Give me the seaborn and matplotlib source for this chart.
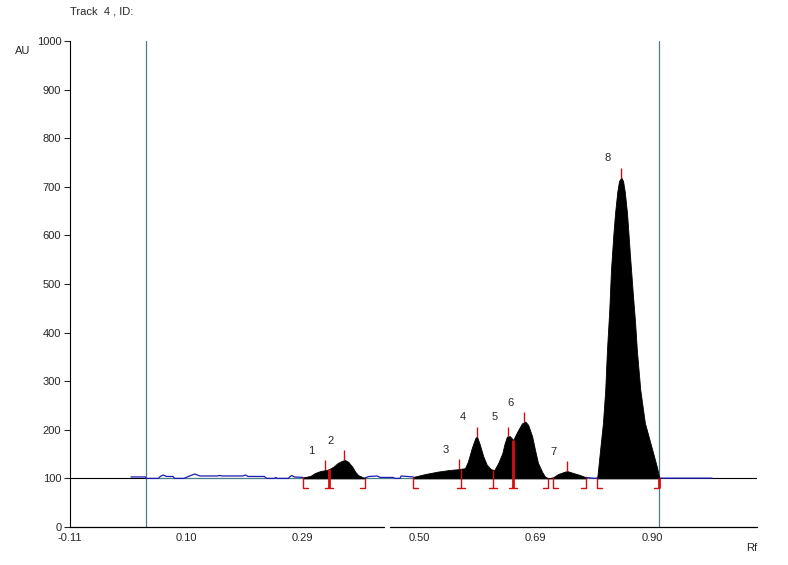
import numpy as np
import matplotlib
matplotlib.use("Agg")
import matplotlib.pyplot as plt
import seaborn as sns

# 扫描曲线（Rf, AU），按图上读数分段
rf_noise = [-0.004, 0.021, 0.023, 0.044, 0.047, 0.052, 0.058, 0.069, 0.072, 0.088, 0.100, 0.107,
            0.116, 0.146, 0.150, 0.155, 0.191, 0.195, 0.200, 0.228, 0.232, 0.246, 0.248, 0.250,
            0.270, 0.272, 0.276, 0.280, 0.295]
au_noise = [103, 103, 100, 100, 104, 107, 104, 104, 100, 100, 106, 109,
            105, 105, 106, 105, 105, 107, 104, 104, 100, 100, 102, 100,
            100, 103, 106, 103, 102]

rf_p12 = [0.295, 0.308, 0.316, 0.325, 0.334, 0.339, 0.348, 0.356, 0.363, 0.368, 0.374, 0.381,
          0.386, 0.391, 0.400, 0.403]
au_p12 = [102, 105, 111, 115, 117, 118, 124, 132, 136, 138, 134, 124,
          114, 107, 102, 101]

rf_gap1 = [0.403, 0.410, 0.424, 0.430, 0.452, 0.455, 0.464, 0.466, 0.487]
au_gap1 = [101, 104, 105, 102, 102, 100, 100, 105, 103]

rf_p37 = [0.487, 0.508, 0.530, 0.548, 0.565, 0.577, 0.582, 0.589, 0.595, 0.598, 0.603, 0.609,
          0.615, 0.622, 0.628, 0.635, 0.642, 0.646, 0.650, 0.655, 0.661, 0.668, 0.676, 0.682,
          0.687, 0.694, 0.699, 0.704, 0.711, 0.716, 0.722, 0.730, 0.739, 0.751, 0.755, 0.763,
          0.777, 0.788]
au_p37 = [103, 109, 114, 117, 119, 121, 134, 163, 183, 186, 169, 145,
          128, 119, 117, 132, 152, 172, 186, 187, 179, 196, 213, 217,
          210, 186, 158, 132, 114, 104, 100, 102, 109, 114, 115, 112,
          107, 102]

rf_gap2 = [0.788, 0.795, 0.803, 0.807]
au_gap2 = [102, 101, 100, 101]

rf_p8 = [0.807, 0.809, 0.812, 0.817, 0.821, 0.824, 0.828, 0.831, 0.835, 0.838, 0.842, 0.845,
         0.849, 0.852, 0.855, 0.859, 0.864, 0.869, 0.873, 0.876, 0.882, 0.890, 0.903, 0.911,
         0.915]
au_p8 = [101, 123, 158, 214, 282, 364, 446, 529, 600, 645, 690, 712,
         719, 712, 690, 645, 560, 480, 420, 364, 282, 214, 158, 123,
         101]

rf_tail = [0.915, 0.917, 1.007]
au_tail = [101, 100.5, 100.5]

# 峰位置与编号
peak_rf = [0.334, 0.367, 0.567, 0.598, 0.652, 0.680, 0.755, 0.849]
peak_labels = ['1', '2', '3', '4', '5', '6', '7', '8']

# 积分边界
bound_rf = [0.295, 0.341, 0.403, 0.487, 0.570, 0.626, 0.661, 0.722, 0.730, 0.788, 0.807, 0.915]
bound_kind = ['start', 'split', 'end', 'start', 'split', 'split', 'split', 'end', 'start', 'end', 'start', 'end']
bound_thick = [0, 1, 0, 0, 0, 0, 1, 0, 0, 0, 0, 1]

# 起点/前沿线
track_lines = [0.022, 0.915]

x_ticks = [-0.11, 0.0925, 0.295, 0.4975, 0.70, 0.9025]
x_ticklabels = ['-0.11', '0.10', '0.29', '0.50', '0.69', '0.90']
y_ticks = list(range(0, 1001, 100))

sns.set_style("white")
plt.rcParams['font.family'] = ['Liberation Sans', 'DejaVu Sans']

teal = '#46828c'
blue = '#1c1cb4'
red = '#d01010'

rf = np.concatenate([rf_noise, rf_p12, rf_gap1, rf_p37, rf_gap2, rf_p8, rf_tail])
au = np.concatenate([au_noise, au_p12, au_gap1, au_p37, au_gap2, au_p8, au_tail])

fig = plt.figure(figsize=(7.88, 5.65), dpi=100)
ax = fig.add_axes([70 / 788, 1 - 527 / 565, 687 / 788, 486 / 565])

# 基线
ax.axhline(100, color='black', lw=0.8, zorder=1)
ax.hlines(100, track_lines[0], track_lines[1], color=teal, lw=0.8, zorder=2)
for xv in track_lines:
    ax.axvline(xv, color=teal, lw=0.9, zorder=2)

# 峰之外的信号（蓝线）
for xs, ys in [(rf_noise, au_noise), (rf_gap1, au_gap1), (rf_gap2, au_gap2), (rf_tail, au_tail)]:
    sns.lineplot(x=xs, y=ys, ax=ax, color=blue, lw=0.9, estimator=None, sort=False, zorder=3)

# 峰面积（黑色填充）
for xs, ys in [(rf_p12, au_p12), (rf_p37, au_p37), (rf_p8, au_p8)]:
    ax.fill_between(xs, 100, ys, facecolor='black', edgecolor='black', lw=0.6, zorder=4)

# 积分边界标记
foot_y = 80
for xb, kind, thick in zip(bound_rf, bound_kind, bound_thick):
    top = max(np.interp(xb, rf, au), 100)
    lw = 2.0 if thick else 1.0
    ax.plot([xb, xb], [foot_y, top], color=red, lw=lw, zorder=5, solid_capstyle='butt')
    if kind == 'start':
        fx = [xb, xb + 0.009]
    elif kind == 'end':
        fx = [xb - 0.009, xb]
    else:
        fx = [xb - 0.007, xb + 0.007]
    ax.plot(fx, [foot_y, foot_y], color=red, lw=1.0, zorder=5)

# 峰顶标记与编号
for xp, lab in zip(peak_rf, peak_labels):
    h = np.interp(xp, rf, au)
    ax.plot([xp, xp], [h, h + 20], color=red, lw=1.0, zorder=5, solid_capstyle='butt')
    ax.annotate(lab, (xp, h + 20), xytext=(-10, 7), textcoords='offset points',
                ha='center', va='center', fontsize=8)

ax.set_xlim(-0.11, 1.085)
ax.set_ylim(0, 1000)
ax.set_xticks(x_ticks)
ax.set_xticklabels(x_ticklabels)
ax.set_yticks(y_ticks)
ax.tick_params(axis='x', length=0, pad=4, labelsize=8)
ax.tick_params(axis='y', length=4.3, width=0.8, pad=2, labelsize=8, direction='out', left=True)
ax.set_xlabel('')
ax.set_ylabel('')

for s in ['top', 'right', 'bottom']:
    ax.spines[s].set_visible(False)
ax.spines['left'].set_color('black')
ax.spines['left'].set_linewidth(0.8)

# 断开的横轴
ax.plot([-0.11, 0.436], [0, 0], color='black', lw=0.9, clip_on=False, zorder=6)
ax.plot([0.447, 1.085], [0, 0], color='black', lw=0.9, clip_on=False, zorder=6)

fig.text(70 / 788, 1 - 12 / 565, 'Track  4 , ID:', ha='left', va='center', fontsize=8)
fig.text(15 / 788, 1 - 51 / 565, 'AU', ha='left', va='center', fontsize=8)
fig.text(757 / 788, 1 - 548 / 565, 'Rf', ha='right', va='center', fontsize=8)

fig.savefig('out.png', dpi=100)
